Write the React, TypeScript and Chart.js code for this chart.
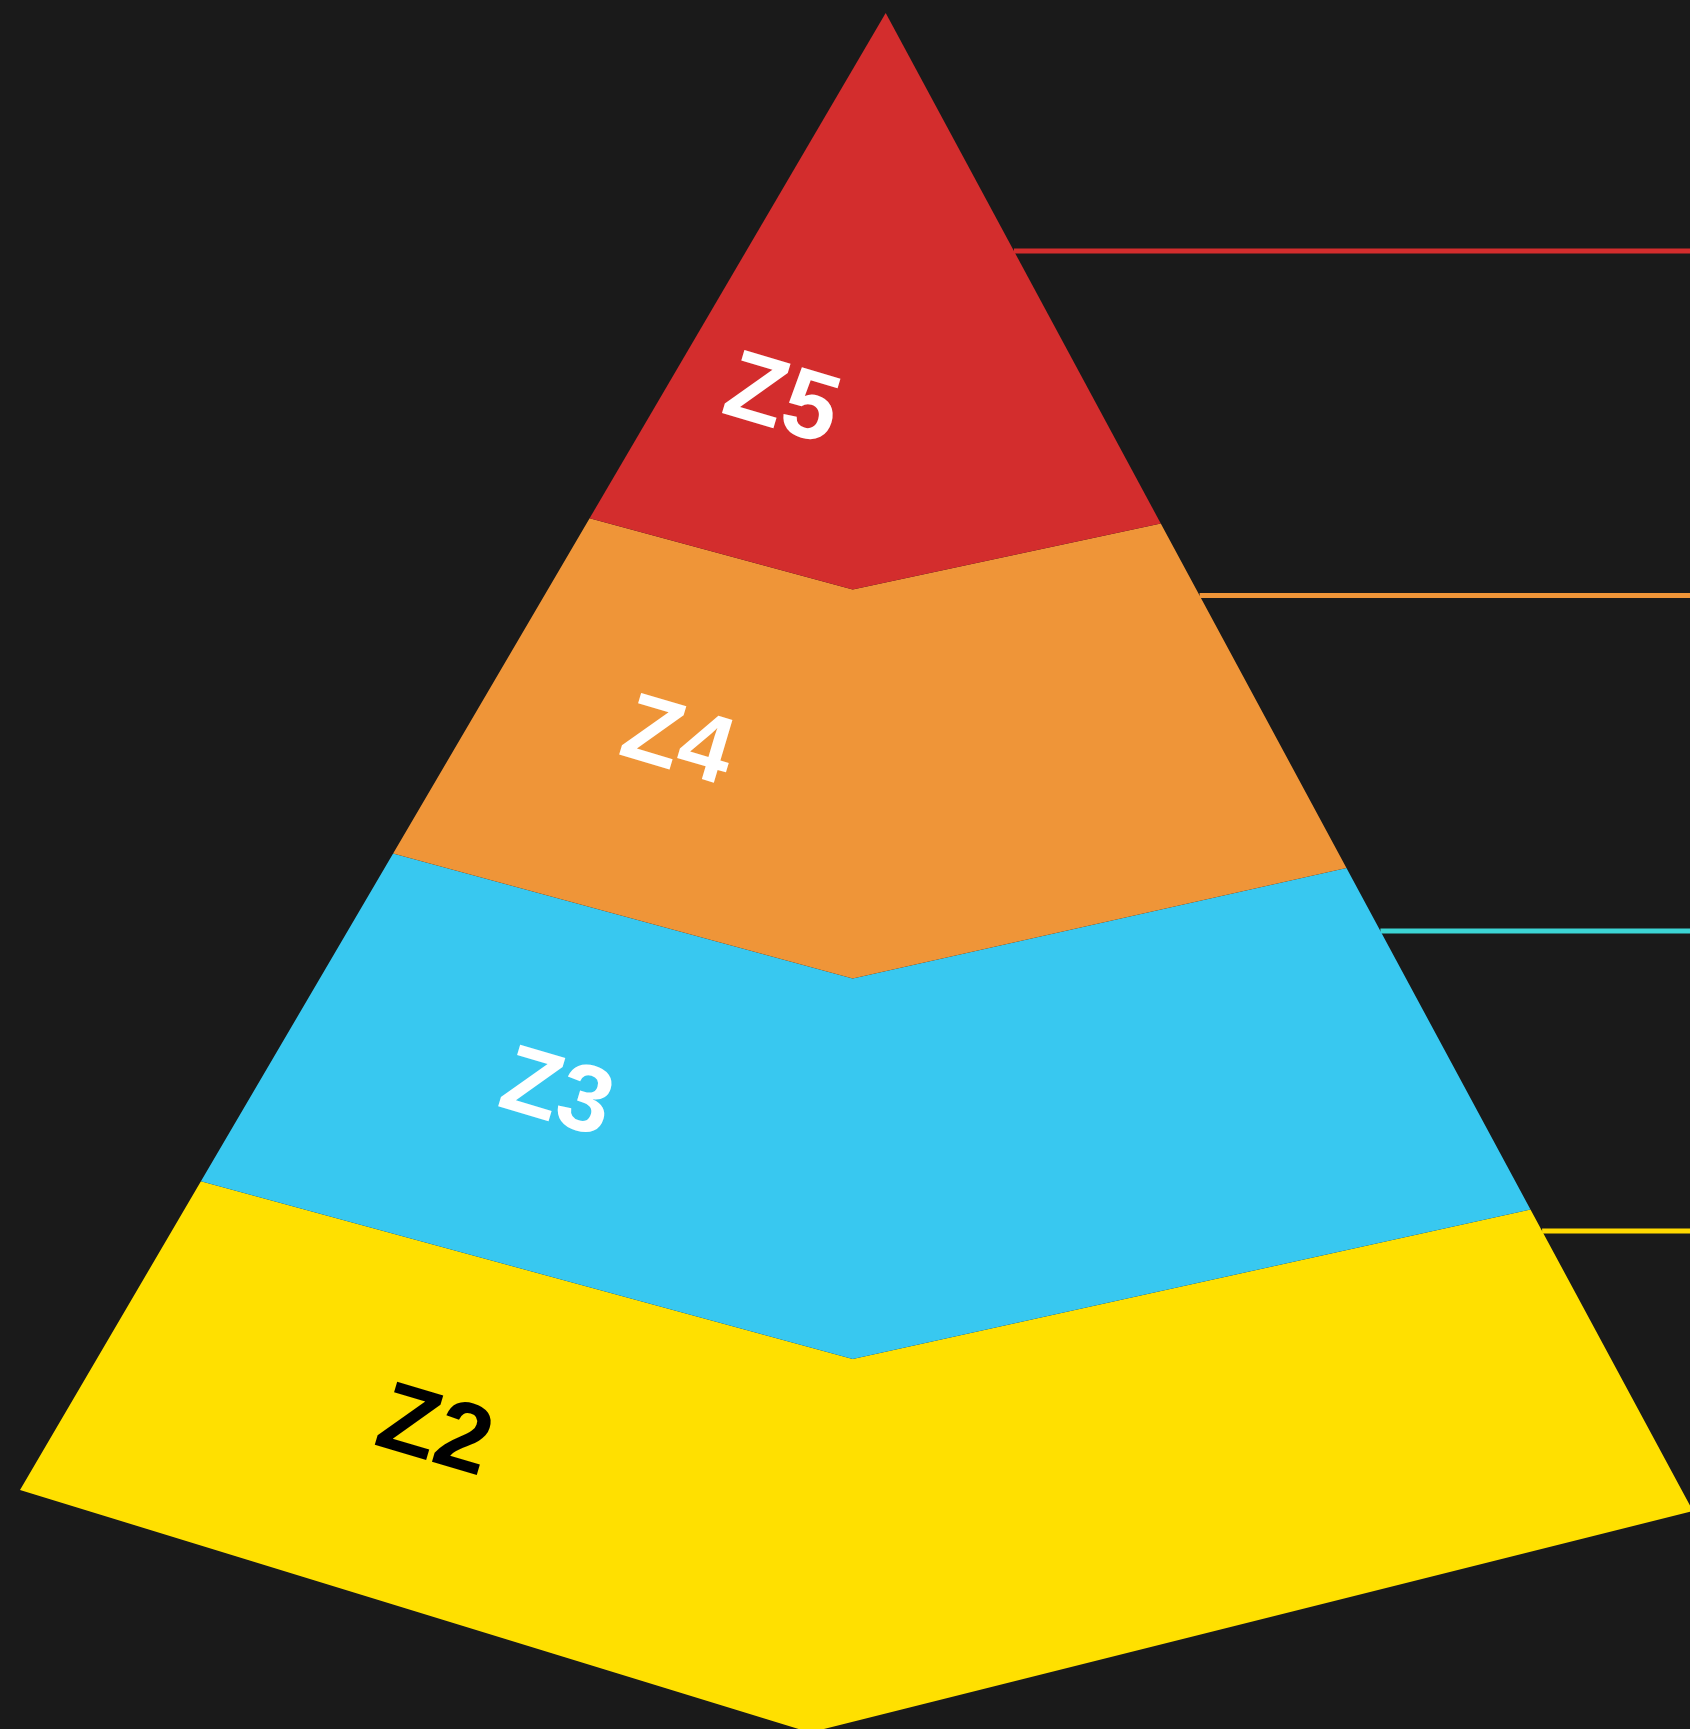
import React, { useEffect, useRef } from "react";
import { Chart, registerables } from "chart.js";

Chart.register(...registerables);

// ---------- data ----------
const categories = ["Z5", "Z4", "Z3", "Z2"];
// share of the pyramid height taken by each level (top to bottom)
const values = [34.2, 22.7, 22.2, 20.9];

// ---------- styles ----------
const segmentColors = ["#D32D2D", "#EF9538", "#38C8F0", "#FFE000"];
const leaderColors = ["#D32D2D", "#EF9538", "#3CD4D4", "#FFD900"];
const labelColors = ["#FFFFFF", "#FFFFFF", "#FFFFFF", "#000000"];
const labelSizes = [97, 95, 95, 97];
const BG = "#1A1A1A";

// ---------- layout (data space = 1690 x 1729 view) ----------
const W = 1690;
const H = 1729;
const APEX = { x: 885.7, y: 13 };
const BASE_LEFT = { x: 20, y: 1490 };
const BASE_RIGHT = { x: 1693, y: 1511 };
const BASE_FRONT = { x: 810, y: 1732.5 };
const FRONT_EDGE = { x: 852.7, y0: 3.4, y1: 1717.2 };
const RIGHT_DIP = 45; // perspective drop of inner cuts on the right edge
const LEADER_Y = [251, 595.5, 931, 1231];
// label anchor inside each visible front-left face (u: left->front, v: top->bottom)
const LABEL_ANCHOR = [
  { u: 0.57, v: 0.7 },
  { u: 0.52, v: 0.5 },
  { u: 0.47, v: 0.5 },
  { u: 0.45, v: 0.49 },
];
const LABEL_ANGLE = (16.5 * Math.PI) / 180;

type P = { x: number; y: number };
const lerp = (a: P, b: P, t: number): P => ({ x: a.x + (b.x - a.x) * t, y: a.y + (b.y - a.y) * t });
const rightEdgeAt = (y: number): P => {
  const t = (y - APEX.y) / (BASE_RIGHT.y - APEX.y);
  return { x: APEX.x + (BASE_RIGHT.x - APEX.x) * t, y };
};

function cut(h: number, isBase: boolean) {
  if (h <= 0) return { left: APEX, front: APEX, right: APEX };
  const left = lerp(APEX, BASE_LEFT, h);
  const right = isBase ? BASE_RIGHT : rightEdgeAt(left.y + RIGHT_DIP * h * h);
  const front = isBase
    ? BASE_FRONT
    : { x: FRONT_EDGE.x, y: FRONT_EDGE.y0 + (FRONT_EDGE.y1 - FRONT_EDGE.y0) * h };
  return { left, front, right };
}

function buildGeometry() {
  const total = values.reduce((a, b) => a + b, 0);
  const segs: { poly: P[]; label: P }[] = [];
  let acc = 0;
  values.forEach((v, i) => {
    const h0 = acc / total;
    acc += v;
    const h1 = acc / total;
    const top = cut(h0, false);
    const bot = cut(h1, i === values.length - 1);
    const poly = [top.left, top.front, top.right, bot.right, bot.front, bot.left, top.left];
    const { u, v: vv } = LABEL_ANCHOR[i];
    const a = lerp(top.left, top.front, u);
    const b = lerp(bot.left, bot.front, u);
    segs.push({ poly, label: lerp(a, b, vv) });
  });
  return segs;
}

export default function App() {
  const ref = useRef<HTMLCanvasElement | null>(null);

  useEffect(() => {
    document.body.style.margin = "0";
    document.body.style.background = BG;
    const canvas = ref.current;
    if (!canvas) return;
    const segs = buildGeometry();

    const datasets: any[] = [];
    segs.forEach((s, i) => {
      datasets.push({
        label: categories[i],
        data: s.poly.map((p) => ({ x: p.x, y: p.y })),
        showLine: true,
        fill: "shape",
        backgroundColor: segmentColors[i],
        borderColor: "rgba(0,0,0,0)",
        borderWidth: 0,
        pointRadius: 0,
        tension: 0,
        order: 0,
      });
    });
    LEADER_Y.forEach((y, i) => {
      const start = rightEdgeAt(y);
      datasets.push({
        label: categories[i] + " leader",
        data: [
          { x: start.x, y },
          { x: W + 20, y },
        ],
        showLine: true,
        fill: false,
        borderColor: leaderColors[i],
        borderWidth: 5,
        borderCapStyle: "butt",
        pointRadius: 0,
        tension: 0,
        order: 1,
      });
    });

    const bgPlugin = {
      id: "bg",
      beforeDraw(chart: any) {
        const c = chart.ctx;
        c.save();
        c.fillStyle = BG;
        c.fillRect(0, 0, chart.width, chart.height);
        c.restore();
      },
    };

    const labelPlugin = {
      id: "segLabels",
      afterDatasetsDraw(chart: any) {
        const c = chart.ctx;
        const xs = chart.scales.x;
        const ys = chart.scales.y;
        segs.forEach((s, i) => {
          const px = xs.getPixelForValue(s.label.x);
          const py = ys.getPixelForValue(s.label.y);
          const size = labelSizes[i];
          c.save();
          c.translate(px, py);
          c.rotate(LABEL_ANGLE);
          c.font = `bold ${size}px "Liberation Sans", Arial, sans-serif`;
          c.fillStyle = labelColors[i];
          c.textAlign = "center";
          c.textBaseline = "alphabetic";
          c.fillText(categories[i], 0, size * 0.358);
          c.restore();
        });
      },
    };

    const chart = new Chart(canvas, {
      type: "scatter",
      data: { datasets },
      options: {
        responsive: false,
        maintainAspectRatio: false,
        animation: false,
        events: [],
        layout: { padding: 0 },
        scales: {
          x: { type: "linear", min: 0, max: W, display: false },
          y: { type: "linear", min: 0, max: H, reverse: true, display: false },
        },
        plugins: {
          legend: { display: false },
          tooltip: { enabled: false },
        },
      },
      plugins: [bgPlugin, labelPlugin],
    } as any);

    return () => chart.destroy();
  }, []);

  return (
    <div
      style={{
        position: "fixed",
        left: 0,
        top: 0,
        width: W,
        height: H,
        background: BG,
        overflow: "hidden",
      }}
    >
      <canvas ref={ref} width={W} height={H} style={{ display: "block", width: W, height: H }} />
    </div>
  );
}
